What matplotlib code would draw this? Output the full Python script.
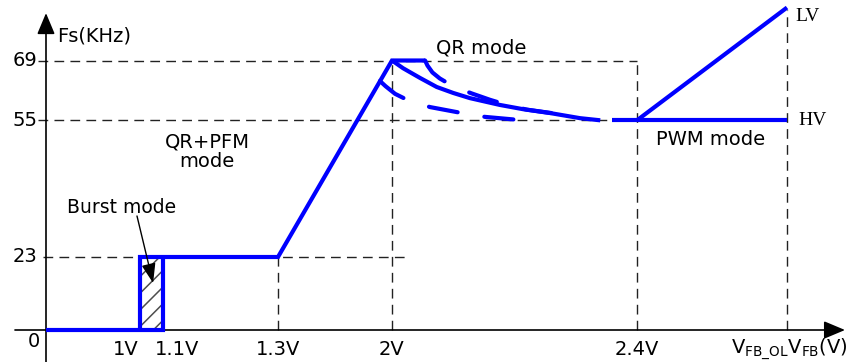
import numpy as np
import matplotlib
matplotlib.use('Agg')
import matplotlib.pyplot as plt

# schematic axes: the voltage axis is not to scale, so map it piecewise
x_anchor_v = [-1, 0, 1, 1.1, 1.3, 2, 2.4, 2.7, 4]
x_anchor_px = [-48, 46, 140, 163, 278, 392, 637, 787, 1437]
y_anchor_v = [-20, 0, 23, 69, 120]
y_anchor_px = [-31.4, 32, 105, 301.5, 519.3]

# tick values / labels
x_ticks = [1, 1.1, 1.3, 2, 2.4]
x_labels = ['1V', '1.1V', '1.3V', '2V', '2.4V']
v_fb_ol = 2.7
y_ticks = [69, 55, 23]
y_labels = ['69', '55', '23']

# frequency curve (KHz vs V_FB)
low_v = [0, 1.1, 1.1]
low_f = [0, 0, 23]
main_v = [1, 1, 1.3, 2, 2.054]
main_f = [0, 23, 23, 69, 69]
qr_v = [2.0, 2.018, 2.046, 2.073, 2.100, 2.127, 2.176, 2.214, 2.258, 2.307, 2.34]
qr_f = [69, 67.2, 64.9, 62.8, 61.4, 60.2, 58.6, 57.6, 56.7, 55.5, 55]
qr_hi_v = [2.054, 2.058, 2.066, 2.078, 2.091, 2.11, 2.13, 2.16, 2.19, 2.22, 2.26]
qr_hi_f = [69, 67.8, 66.2, 64.8, 63.7, 62.4, 61.3, 59.8, 58.5, 57.5, 56.7]
qr_lo_v = [1.926, 1.96, 2.005, 2.026, 2.062, 2.114, 2.152, 2.206, 2.24]
qr_lo_f = [64.2, 63.0, 61.2, 59.7, 58.1, 56.7, 55.8, 55.1, 55]
hv_v = [2.36, 2.7]
hv_f = [55, 55]
lv_v = [2.4, 2.7]
lv_f = [55, 81.4]


def fx(v):
    return np.interp(v, x_anchor_v, x_anchor_px)


def fx_inv(p):
    return np.interp(p, x_anchor_px, x_anchor_v)


def fy(v):
    return np.interp(v, y_anchor_v, y_anchor_px)


def fy_inv(p):
    return np.interp(p, y_anchor_px, y_anchor_v)


plt.rcParams['font.family'] = ['DejaVu Sans']
plt.rcParams['hatch.color'] = '#4d4d4d'
plt.rcParams['hatch.linewidth'] = 1.1

fig = plt.figure(figsize=(8.5, 3.62), dpi=100)
ax = fig.add_axes([0, 0, 1, 1])
ax.set_xscale('function', functions=(fx, fx_inv))
ax.set_yscale('function', functions=(fy, fy_inv))
ax.axis('off')

blue = '#0000ff'
guide = dict(color='#222222', lw=1, linestyle=(0, (7, 4.5)), zorder=1)

# dashed guide lines
ax.plot([-0.085, 2.4], [69, 69], **guide)
ax.plot([-0.085, 2.4], [55, 55], **guide)
ax.plot([-0.03, 2.03], [23, 23], **guide)
ax.plot([1.3, 1.3], [0, 23], **guide)
ax.plot([2, 2], [0, 69], **guide)
ax.plot([2.4, 2.4], [0, 69], **guide)
ax.plot([v_fb_ol, v_fb_ol], [0, 80.8], **guide)

# axes with arrow heads
arr = dict(arrowstyle='-|>,head_length=1.0,head_width=0.42', color='black',
           lw=1.2, mutation_scale=13, shrinkA=0, shrinkB=0)
ax.annotate('', xy=(2.816, 0), xytext=(-0.33, 0), arrowprops=arr, zorder=2)
ax.annotate('', xy=(0, 80.1), xytext=(0, -10.1), arrowprops=arr, zorder=2)

# burst region hatch
ax.fill_between([1, 1.1], 0, 23, facecolor='none', edgecolor='#4d4d4d',
                hatch='//', linewidth=0, zorder=2)

# frequency curve
solid = dict(color=blue, lw=3, solid_joinstyle='miter', solid_capstyle='butt', zorder=3)
dashed = dict(color=blue, lw=3, linestyle=(0, (7, 6.5)), dash_capstyle='round', zorder=3)
ax.plot(low_v, low_f, **solid)
ax.plot(main_v, main_f, **solid)
ax.plot(qr_v, qr_f, **solid)
ax.plot(qr_hi_v, qr_hi_f, **dashed)
ax.plot(qr_lo_v, qr_lo_f, **dashed)
ax.plot(hv_v, hv_f, **solid)
ax.plot(lv_v, lv_f, **solid)

# tick labels
fs = 14
x_offsets = [-10, 10, 0, 0, 0]
for v, lab, dx in zip(x_ticks, x_labels, x_offsets):
    ax.annotate(lab, xy=(v, 0), xytext=(dx, -14), textcoords='offset points',
                ha='center', va='center', fontsize=fs)
ax.annotate(r'$\mathregular{V_{FB\_OL}V_{FB}(V)}$', xy=(v_fb_ol, 0), xytext=(2, -14),
            textcoords='offset points', ha='center', va='center', fontsize=fs)
for v, lab in zip(y_ticks, y_labels):
    ax.annotate(lab, xy=(0, v), xytext=(-6, 0), textcoords='offset points',
                ha='right', va='center', fontsize=fs)
ax.annotate('0', xy=(0, 0), xytext=(-8.6, -8), textcoords='offset points',
            ha='center', va='center', fontsize=fs)

# annotations
ax.text(0.12, 74.7, 'Fs(KHz)', ha='left', va='center', fontsize=fs)
ax.text(2.145, 71.9, 'QR mode', ha='center', va='center', fontsize=fs)
ax.text(1.177, 47.6, 'QR+PFM\nmode', ha='center', va='center', fontsize=fs,
        linespacing=1.0)
ax.text(2.548, 50.6, 'PWM mode', ha='center', va='center', fontsize=fs)
ax.text(0.80, 34.5, 'Burst mode', ha='center', va='center', fontsize=13.5)
ax.annotate('', xy=(1.057, 14.8), xytext=(0.968, 32.6),
            arrowprops=dict(arrowstyle='-|>,head_length=1.0,head_width=0.36',
                            color='black', lw=1, mutation_scale=12,
                            shrinkA=0, shrinkB=0), zorder=4)
ax.text(2.716, 79.4, 'LV', ha='left', va='center', fontsize=14,
        family='Liberation Serif')
ax.text(2.722, 55, 'HV', ha='left', va='center', fontsize=14,
        family='Liberation Serif')

ax.set_xlim(fx_inv(0), fx_inv(850))
ax.set_ylim(fy_inv(0), fy_inv(362))

plt.savefig('out.png', dpi=100)
